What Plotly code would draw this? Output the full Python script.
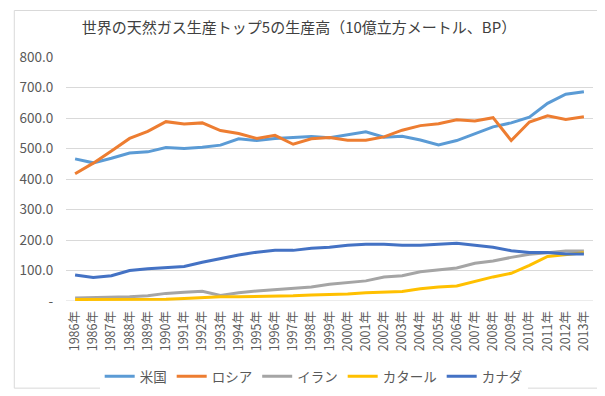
import plotly.graph_objects as go

years = ["1986年", "1986年", "1987年", "1988年", "1989年", "1990年", "1991年", "1992年",
         "1993年", "1994年", "1995年", "1996年", "1997年", "1998年", "1999年", "2000年",
         "2001年", "2002年", "2003年", "2004年", "2005年", "2006年", "2007年", "2008年",
         "2009年", "2010年", "2011年", "2012年", "2013年"]

usa = [466, 453, 468, 485, 489, 503, 500, 504, 511, 532, 526, 533, 536, 539, 535, 545,
       555, 537, 540, 528, 512, 526, 548, 571, 584, 603, 648, 678, 686]
russia = [417, 452, 492, 533, 556, 588, 580, 584, 559, 549, 533, 543, 514, 532, 536, 527,
          527, 538, 560, 575, 581, 594, 590, 601, 526, 587, 607, 595, 604]
iran = [10, 11, 12, 14, 17, 25, 29, 32, 18, 27, 33, 38, 43, 46, 55, 60,
        66, 79, 83, 96, 103, 108, 124, 131, 143, 153, 158, 164, 164]
qatar = [5, 5, 5, 5, 5, 6, 8, 12, 14, 14, 15, 15, 17, 20, 21, 23,
         27, 29, 31, 40, 46, 49, 65, 79, 91, 117, 146, 151, 158]
canada = [85, 77, 83, 100, 106, 109, 113, 127, 139, 151, 160, 166, 166, 173, 176, 183,
          186, 186, 183, 183, 186, 189, 183, 176, 165, 159, 159, 154, 154]

series_names = ["米国", "ロシア", "イラン", "カタール", "カナダ"]
series_values = [usa, russia, iran, qatar, canada]
colors = ["#5B9BD5", "#ED7D31", "#A5A5A5", "#FFC000", "#4472C4"]

y_tickvals = [0, 100, 200, 300, 400, 500, 600, 700, 800]
y_ticktext = ["-", "100.0", "200.0", "300.0", "400.0", "500.0", "600.0", "700.0", "800.0"]

FONT = "Noto Sans CJK JP"
idx = list(range(len(years)))

fig = go.Figure()
for name, vals, col in zip(series_names, series_values, colors):
    fig.add_trace(go.Scatter(x=idx, y=vals, mode="lines", name=name,
                             line=dict(color=col, width=3)))

W, H = 605, 396
ml, mr, mt, mb = 55, 20, 49, 95
pw, ph = W - ml - mr, H - mt - mb

def px(x):
    return (x - ml) / pw

def py(y):
    return (H - mb - y) / ph

fig.update_layout(
    width=W, height=H,
    margin=dict(l=ml, r=mr, t=mt, b=mb),
    paper_bgcolor="white", plot_bgcolor="white",
    font=dict(family=FONT, color="#595959", size=13),
    title=dict(text="世界の天然ガス生産トップ5の生産高（10億立方メートル、BP）",
               x=291 / W, xanchor="center", y=1 - 20 / H, yanchor="middle",
               font=dict(family=FONT, size=15, color="#404040")),
    xaxis=dict(range=[-0.5, len(years) - 0.5], tickvals=idx, ticktext=years,
               tickangle=-90, showgrid=False, showline=False, zeroline=False,
               ticks="outside", ticklen=4, tickcolor="rgba(0,0,0,0)",
               tickfont=dict(size=12.5, color="#595959")),
    yaxis=dict(range=[0, 800], tickvals=y_tickvals, ticktext=y_ticktext,
               showgrid=True, gridcolor="#D9D9D9", gridwidth=1, zeroline=False,
               showline=False, ticks="outside", ticklen=9, tickcolor="rgba(0,0,0,0)",
               tickfont=dict(size=13.5, color="#595959")),
    legend=dict(orientation="h", x=0.47, xanchor="center", y=py(379), yanchor="middle",
                font=dict(size=13.5, color="#595959"), itemwidth=30),
    shapes=[
        dict(type="rect", xref="paper", yref="paper",
             x0=px(3), x1=px(601), y0=py(391), y1=py(1),
             line=dict(color="#D9D9D9", width=1), fillcolor="rgba(0,0,0,0)", layer="below"),
        dict(type="line", xref="paper", yref="y", x0=0, x1=1, y0=0, y1=0,
             line=dict(color="#D9D9D9", width=1), layer="below"),
    ],
)

fig.write_html("out.html")
